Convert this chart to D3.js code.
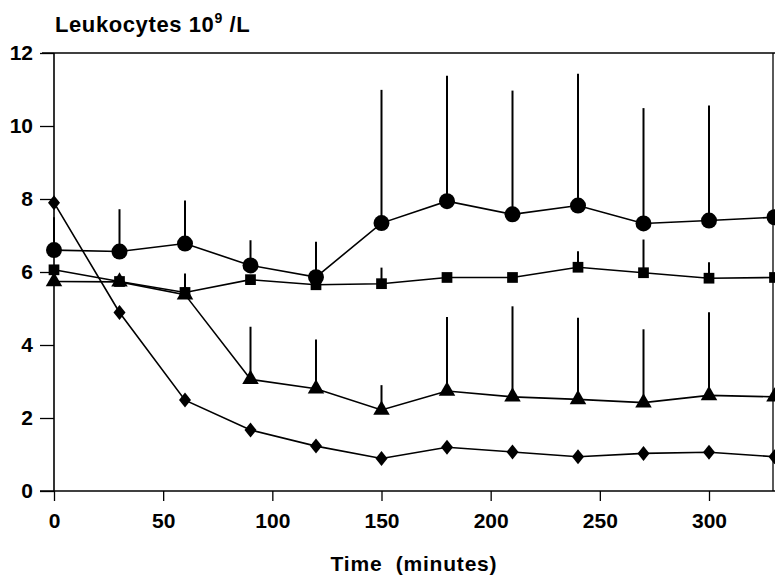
<!DOCTYPE html>
<html>
<head>
<meta charset="utf-8">
<script src="https://cdn.jsdelivr.net/npm/d3@7"></script>
<style>
  html, body { margin: 0; padding: 0; background: #fff; }
  svg { display: block; }
  text { font-family: "Liberation Sans", Arial, Helvetica, sans-serif; fill: #000; }
</style>
</head>
<body>
<svg id="chart" width="775" height="579"></svg>
<script>
// ---- data ----
const times = [0, 30, 60, 90, 120, 150, 180, 210, 240, 270, 300, 330];
const xTicks = [0, 50, 100, 150, 200, 250, 300];
const yTicks = [0, 2, 4, 6, 8, 10, 12];

const circleMean  = [6.60, 6.56, 6.78, 6.18, 5.86, 7.34, 7.94, 7.58, 7.82, 7.33, 7.41, 7.50];
const circleUpper = [7.50, 7.72, 7.96, 6.87, 6.83, 10.99, 11.38, 10.97, 11.43, 10.49, 10.56, null];

const squareMean  = [6.06, 5.74, 5.44, 5.79, 5.65, 5.68, 5.85, 5.85, 6.13, 5.98, 5.83, 5.85];
const squareUpper = [null, null, 5.96, null, null, 6.12, null, null, 6.57, 6.89, 6.27, null];

const triMean     = [5.74, 5.73, 5.38, 3.06, 2.80, 2.22, 2.74, 2.58, 2.51, 2.42, 2.62, 2.58];
const triUpper    = [null, null, null, 4.50, 4.15, 2.90, 4.77, 5.06, 4.75, 4.43, 4.90, null];

const diaMean     = [7.90, 4.89, 2.49, 1.67, 1.23, 0.89, 1.20, 1.07, 0.94, 1.03, 1.06, 0.94];

// custom diamond: half-width w, half-height h derived from size
const wideDiamond = {
  draw(ctx, size) {
    const h = Math.sqrt(size / 1.6);   // half height
    const w = h * 0.8;                  // half width
    ctx.moveTo(0, -h); ctx.lineTo(w, 0); ctx.lineTo(0, h); ctx.lineTo(-w, 0); ctx.closePath();
  }
};

const series = [
  { name: "circle",   mean: circleMean, upper: circleUpper, symbol: d3.symbolCircle,   size: 200 },
  { name: "square",   mean: squareMean, upper: squareUpper, symbol: d3.symbolSquare,   size: 115 },
  { name: "triangle", mean: triMean,    upper: triUpper,    symbol: d3.symbolTriangle, size: 118 },
  { name: "diamond",  mean: diaMean,    upper: null,        symbol: wideDiamond,       size: 90 }
];

// ---- layout ----
const svg = d3.select("#chart");
const x = d3.scaleLinear().domain([0, 330]).range([54, 774.5]);
const y = d3.scaleLinear().domain([0, 12]).range([491, 53]);

const font = '"Liberation Sans", Arial, Helvetica, sans-serif';

// frame: top and right lines
svg.append("line").attr("x1", 42).attr("x2", 775).attr("y1", y(12)).attr("y2", y(12))
  .attr("stroke", "#000").attr("stroke-width", 1.3);
svg.append("line").attr("x1", 773).attr("x2", 773).attr("y1", y(12)).attr("y2", y(0))
  .attr("stroke", "#000").attr("stroke-width", 1.3);

// axes
const yAxis = d3.axisLeft(y).tickValues(yTicks).tickSize(14).tickPadding(7).tickFormat(d3.format("d"));
const gy = svg.append("g").attr("transform", `translate(${x(0)},0)`).call(yAxis);
gy.select(".domain").attr("stroke", "#000").attr("stroke-width", 1.6).attr("d", `M0,${y(12)}V${y(0)}`);
gy.selectAll(".tick line").attr("stroke", "#000").attr("stroke-width", 1.3);
gy.selectAll(".tick text").attr("font-family", font).attr("font-size", 21).attr("font-weight", "bold")
  .attr("fill", "#000");

const xAxis = d3.axisBottom(x).tickValues(xTicks).tickSize(10).tickPadding(12).tickFormat(d3.format("d"));
const gx = svg.append("g").attr("transform", `translate(0,${y(0)})`).call(xAxis);
gx.select(".domain").attr("stroke", "#000").attr("stroke-width", 1.6).attr("d", `M40,0H775`);
gx.selectAll(".tick line").attr("stroke", "#000").attr("stroke-width", 1.3);
gx.selectAll(".tick text").attr("font-family", font).attr("font-size", 21).attr("font-weight", "bold")
  .attr("fill", "#000");

// error bars (upper only)
series.forEach(s => {
  if (!s.upper) return;
  svg.append("g").selectAll("line")
    .data(times.map((t, i) => ({ t, m: s.mean[i], u: s.upper[i] })).filter(d => d.u != null))
    .join("line")
    .attr("x1", d => x(d.t)).attr("x2", d => x(d.t))
    .attr("y1", d => y(d.m)).attr("y2", d => y(d.u))
    .attr("stroke", "#000").attr("stroke-width", 2);
});

// lines
const line = d3.line().x(d => x(d.t)).y(d => y(d.v));
series.forEach(s => {
  const pts = times.map((t, i) => ({ t, v: s.mean[i] }));
  svg.append("path").datum(pts).attr("d", line)
    .attr("fill", "none").attr("stroke", "#000").attr("stroke-width", 1.6);
});

// markers
series.forEach(s => {
  const sym = d3.symbol().type(s.symbol).size(s.size);
  svg.append("g").selectAll("path")
    .data(times.map((t, i) => ({ t, v: s.mean[i] })))
    .join("path")
    .attr("transform", d => `translate(${x(d.t)},${y(d.v)})`)
    .attr("d", sym)
    .attr("fill", "#000");
});

// title
const title = svg.append("text").attr("x", 55).attr("y", 32)
  .attr("font-family", font).attr("font-size", 22).attr("font-weight", "bold")
  .attr("letter-spacing", 0.6);
title.append("tspan").text("Leukocytes 10");
title.append("tspan").attr("font-size", 14).attr("dy", -9).text("9");
title.append("tspan").attr("dy", 9).text(" /L");

// x-axis title
svg.append("text").attr("x", 414).attr("y", 571).attr("text-anchor", "middle")
  .attr("font-family", font).attr("font-size", 21).attr("font-weight", "bold")
  .attr("letter-spacing", 0.8)
  .attr("xml:space", "preserve")
  .text("Time  (minutes)");
</script>
</body>
</html>
